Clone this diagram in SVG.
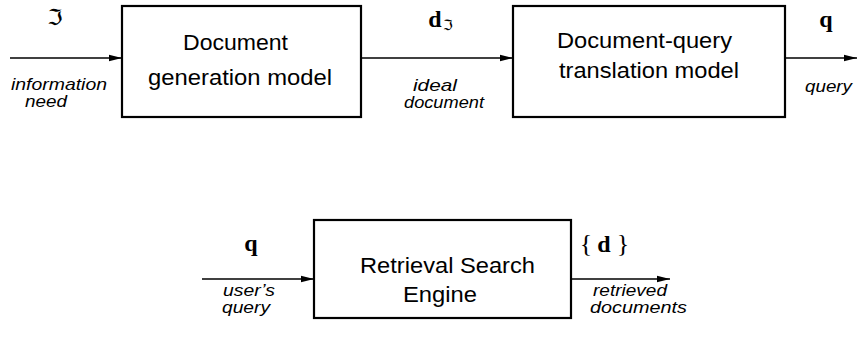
<svg xmlns="http://www.w3.org/2000/svg" width="857" height="343" viewBox="0 0 857 343">
<defs>
<marker id="ah" markerWidth="13" markerHeight="8" refX="13" refY="4" orient="auto" markerUnits="userSpaceOnUse">
<path d="M0,0.8 L13,4 L0,7.2 Z" fill="#000"/>
</marker>
<style>
.box{fill:#fff;stroke:#000;stroke-width:2.2}
.main{font-family:"Liberation Sans",Arial,sans-serif;font-size:21.5px;fill:#000}
.lbl{font-family:"Liberation Sans",Arial,sans-serif;font-size:16.5px;font-style:italic;fill:#000}
.conn{stroke:#000;stroke-width:1.3;fill:none;marker-end:url(#ah)}
.mb{font-family:"Liberation Serif","Times New Roman",serif;font-weight:bold;font-size:24px;fill:#000;text-anchor:middle}
.mr{font-family:"Liberation Serif","Times New Roman",serif;font-size:26px;fill:#000;text-anchor:middle}
.frak{font-family:"DejaVu Serif","DejaVu Sans",serif;fill:#000;text-anchor:middle}
</style>
</defs>
<g id="connectors">
<line class="conn" x1="10" y1="58" x2="122" y2="58"/>
<line class="conn" x1="361" y1="58" x2="513" y2="58"/>
<line class="conn" x1="785" y1="58" x2="857" y2="58"/>
<line class="conn" x1="202" y1="279" x2="314" y2="279"/>
<line class="conn" x1="571" y1="279" x2="670" y2="279"/>
</g>
<g id="node-docgen">
<rect class="box" x="122" y="6" width="239" height="111"/>
<text class="main" x="183" y="50" textLength="105" lengthAdjust="spacingAndGlyphs">Document</text>
<text class="main" x="148" y="85" textLength="184" lengthAdjust="spacingAndGlyphs">generation model</text>
</g>
<g id="node-translation">
<rect class="box" x="513" y="6" width="272" height="111"/>
<text class="main" x="557" y="48" textLength="175" lengthAdjust="spacingAndGlyphs">Document-query</text>
<text class="main" x="559" y="78" textLength="180" lengthAdjust="spacingAndGlyphs">translation model</text>
</g>
<g id="node-search">
<rect class="box" x="314" y="220" width="257" height="98"/>
<text class="main" x="360" y="273" textLength="175" lengthAdjust="spacingAndGlyphs">Retrieval Search</text>
<text class="main" x="403" y="302" textLength="74" lengthAdjust="spacingAndGlyphs">Engine</text>
</g>
<g id="labels">
<text class="frak" x="55" y="25" font-size="22">ℑ</text>
<text class="lbl" x="11" y="90" textLength="96" lengthAdjust="spacingAndGlyphs">information</text>
<text class="lbl" x="25" y="107" textLength="42" lengthAdjust="spacingAndGlyphs">need</text>
<text class="mb" x="435" y="27">d</text>
<text class="frak" x="448" y="30" font-size="14">ℑ</text>
<text class="lbl" x="413" y="91" textLength="44" lengthAdjust="spacingAndGlyphs">ideal</text>
<text class="lbl" x="404" y="108" textLength="80" lengthAdjust="spacingAndGlyphs">document</text>
<text class="mb" x="826" y="27">q</text>
<text class="lbl" x="805" y="92" textLength="47" lengthAdjust="spacingAndGlyphs">query</text>
<text class="mb" x="251" y="251">q</text>
<text class="lbl" x="223" y="296" textLength="52" lengthAdjust="spacingAndGlyphs">user’s</text>
<text class="lbl" x="222" y="313" textLength="48" lengthAdjust="spacingAndGlyphs">query</text>
<text class="mr" x="586" y="252">{</text>
<text class="mb" x="604" y="252">d</text>
<text class="mr" x="623" y="252">}</text>
<text class="lbl" x="593" y="296" textLength="74" lengthAdjust="spacingAndGlyphs">retrieved</text>
<text class="lbl" x="590" y="313" textLength="97" lengthAdjust="spacingAndGlyphs">documents</text>
</g>
</svg>
